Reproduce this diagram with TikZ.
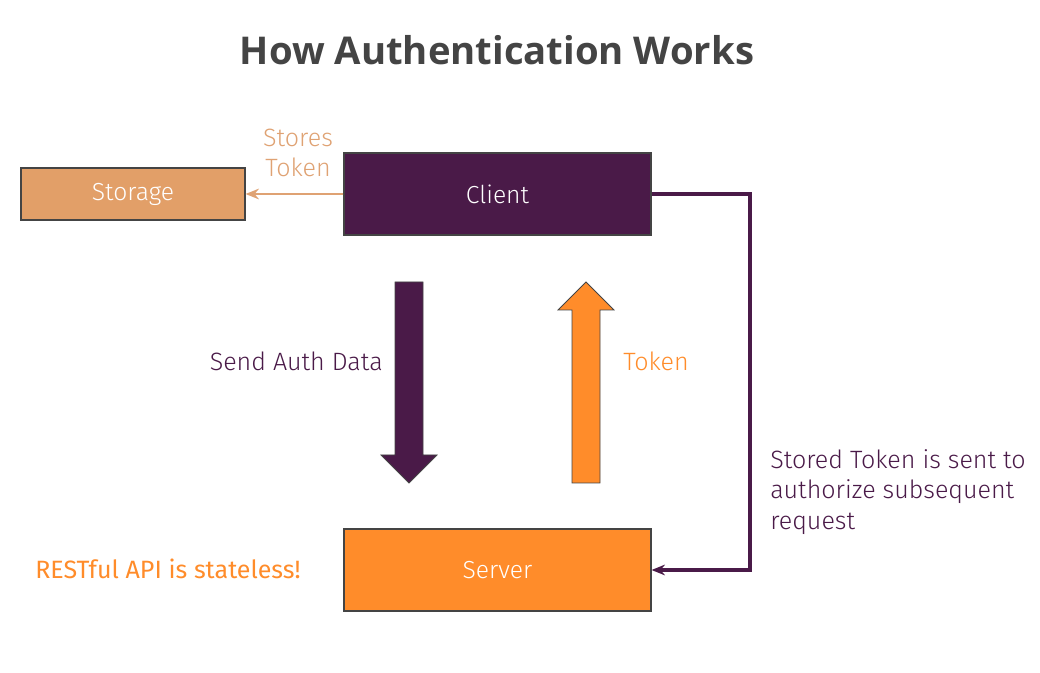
\documentclass[tikz,border=0pt]{standalone}
\usepackage{fontspec}
\setmainfont{Fira Sans Light}
\newfontfamily\titlefont{Open Sans}[BoldFont={* Bold}]
\newfontfamily\regfont{Fira Sans}
\usetikzlibrary{arrows.meta}
\definecolor{purp}{HTML}{4A1A48}
\definecolor{orng}{HTML}{FF8C2A}
\definecolor{tan}{HTML}{E29F68}
\definecolor{tanline}{HTML}{DFA273}
\definecolor{ttl}{HTML}{444444}
\definecolor{bord}{HTML}{444444}
\begin{document}
\begin{tikzpicture}[x=0.75pt,y=-0.75pt,
  box/.style={draw=bord,line width=0.9pt,minimum width=230.25pt,minimum height=61.5pt,inner sep=0pt,text=white,font=\fontsize{18.5}{20}\selectfont},
  lbl/.style={font=\fontsize{18.8}{23}\selectfont,inner sep=0pt},
  conn/.style={line width=2.4pt,-{Stealth[length=10pt,width=8pt]}}]
\useasboundingbox (0,0) rectangle (1040,673);
\node[font=\titlefont\bfseries\fontsize{28.7}{32}\selectfont,text=ttl] (title) at (497,50) {How Authentication Works};
\node[box,fill=tan,minimum width=168pt,minimum height=39pt] (storage) at (133,194) {Storage};
\node[box,fill=purp] (client) at (497.5,194) {Client};
\node[box,fill=orng] (server) at (497.5,570) {Server};
\draw[conn,draw=tanline,line width=2.2pt] (client.west |- storage.east) -- (storage.east);
\node[lbl,text=tanline,align=center] (stores) at (298,153) {Stores\\Token};
% down arrow
\draw[fill=purp,draw=bord,line width=0.6pt] (395,282) -- (423,282) -- (423,455) -- (437,455) -- (409,483) -- (381,455) -- (395,455) -- cycle;
% up arrow
\draw[fill=orng,draw=bord,line width=0.6pt] (572,483) -- (600,483) -- (600,310) -- (614,310) -- (586,282) -- (558,310) -- (572,310) -- cycle;
\node[lbl,text=purp,anchor=east] (send) at (383,361) {Send Auth Data};
\node[lbl,text=orng,anchor=west] (tok) at (623,361) {Token};
\coordinate (c1) at (750,194);
\draw[conn,draw=purp] (client.east) -- (c1) |- (server.east);
\node[lbl,text=purp,anchor=north west,align=left] (stored) at (770,449) {Stored Token is sent to\\authorize subsequent\\request};
\node[lbl,text=orng,anchor=west,font=\regfont\fontsize{18.8}{20}\selectfont] (rest) at (35,569) {RESTful API is stateless!};
\end{tikzpicture}
\end{document}
